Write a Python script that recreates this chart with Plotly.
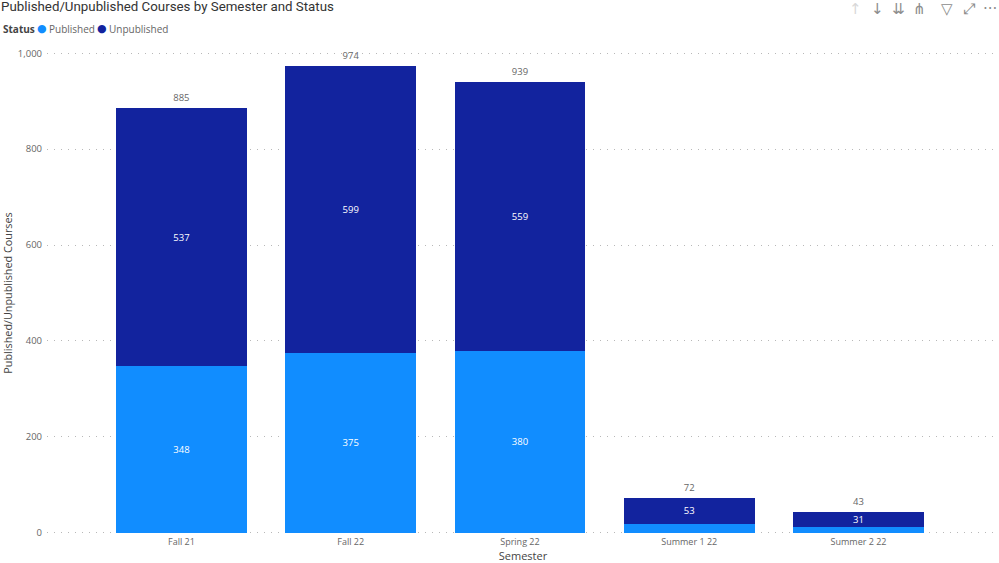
import plotly.graph_objects as go

categories = ["Fall 21", "Fall 22", "Spring 22", "Summer 1 22", "Summer 2 22"]
published = [348, 375, 380, 19, 12]
unpublished = [537, 599, 559, 53, 31]
totals = [885, 974, 939, 72, 43]
published_labels = ["348", "375", "380", "", ""]
unpublished_labels = ["537", "599", "559", "53", "31"]
tick_values = [0, 200, 400, 600, 800, 1000]
tick_labels = ["0", "200", "400", "600", "800", "1,000"]
icons = [("↑", 855, "#d8d8d8"), ("↓", 877, "#8c8c8c"), ("⇊", 898, "#8c8c8c"), ("⋔", 919, "#8c8c8c"),
         ("▽", 947, "#8c8c8c"), ("⤢", 969, "#8c8c8c"), ("···", 990, "#8c8c8c")]

BLUE = "#118DFF"
NAVY = "#12239E"
FONT = "Open Sans"
W, H = 999, 563
L, R, T, B = 47, 0, 52, 29


def px_x(p):
    return (p - L) / (W - L - R)


def px_y(p):
    return (H - B - p) / (H - T - B)


fig = go.Figure()
fig.add_bar(x=categories, y=published, marker=dict(color=BLUE, line_width=0), showlegend=False,
            text=published_labels, textposition="inside", insidetextanchor="middle",
            textangle=0, textfont=dict(color="white", size=9.5, family=FONT), constraintext="none")
fig.add_bar(x=categories, y=unpublished, marker=dict(color=NAVY, line_width=0), showlegend=False,
            text=unpublished_labels, textposition="inside", insidetextanchor="middle",
            textangle=0, textfont=dict(color="white", size=9.5, family=FONT), constraintext="none")
fig.add_scatter(x=categories, y=totals, mode="markers+text", text=[str(v) for v in totals],
                marker=dict(size=6, opacity=0),
                textposition="top center", textfont=dict(color="#666666", size=9.5, family=FONT),
                showlegend=False, cliponaxis=False, hoverinfo="skip")

for glyph, px, color in icons:
    fig.add_annotation(text=glyph, xref="paper", yref="paper", showarrow=False,
                       x=px_x(px), y=px_y(9),
                       font=dict(size=15, color=color, family="DejaVu Sans"),
                       xanchor="center", yanchor="middle")

legend_text = [("<b>Status</b>", 1, "#444444"), ("Published", 47, "#666666"), ("Unpublished", 107, "#666666")]
legend_dots = [(41.5, BLUE), (102, NAVY)]
for label, px, color in legend_text:
    fig.add_annotation(text=label, xref="paper", yref="paper", showarrow=False,
                       x=px_x(px), y=px_y(29), xanchor="left", yanchor="middle",
                       font=dict(size=10, color=color, family=FONT))
for px, color in legend_dots:
    fig.add_annotation(text="●", xref="paper", yref="paper", showarrow=False,
                       x=px_x(px), y=px_y(29), xanchor="center", yanchor="middle",
                       font=dict(size=11, color=color, family="DejaVu Sans"))

fig.update_layout(
    width=W, height=H, autosize=False, barmode="stack", bargap=0.227,
    template="none", showlegend=False,
    paper_bgcolor="white", plot_bgcolor="white",
    margin=dict(l=L, r=R, t=T, b=B, pad=0),
    font=dict(family=FONT, color="#666666", size=10),
    title=dict(text="Published/Unpublished Courses by Semester and Status", x=1 / W, xanchor="left",
               xref="container", y=1 - 6 / H, yanchor="middle", automargin=False,
               font=dict(size=13.3, color="#333333", family="Roboto")),
    xaxis=dict(type="category", categoryorder="array", categoryarray=categories,
               range=[-0.794, 4.83], showgrid=False, zeroline=False, showline=False, ticks="",
               tickfont=dict(size=9, color="#666666", family=FONT), ticklabelstandoff=1,
               title=dict(text="Semester", font=dict(size=11, color="#444444", family=FONT), standoff=4)),
    yaxis=dict(range=[-2.5, 1002.5], tickvals=tick_values, ticktext=tick_labels, showline=False, zeroline=False,
               showgrid=True, gridcolor="#b8b8b8", griddash="1px 6px", gridwidth=1, ticks="",
               tickfont=dict(size=9.5, color="#666666", family=FONT), ticklabelstandoff=4,
               title=dict(text="Published/Unpublished Courses", font=dict(size=10.8, color="#444444", family=FONT), standoff=10)),
)
fig.write_html("out.html", config={"displayModeBar": False},
               post_script="document.body.style.margin='0';document.body.style.overflow='hidden';")
